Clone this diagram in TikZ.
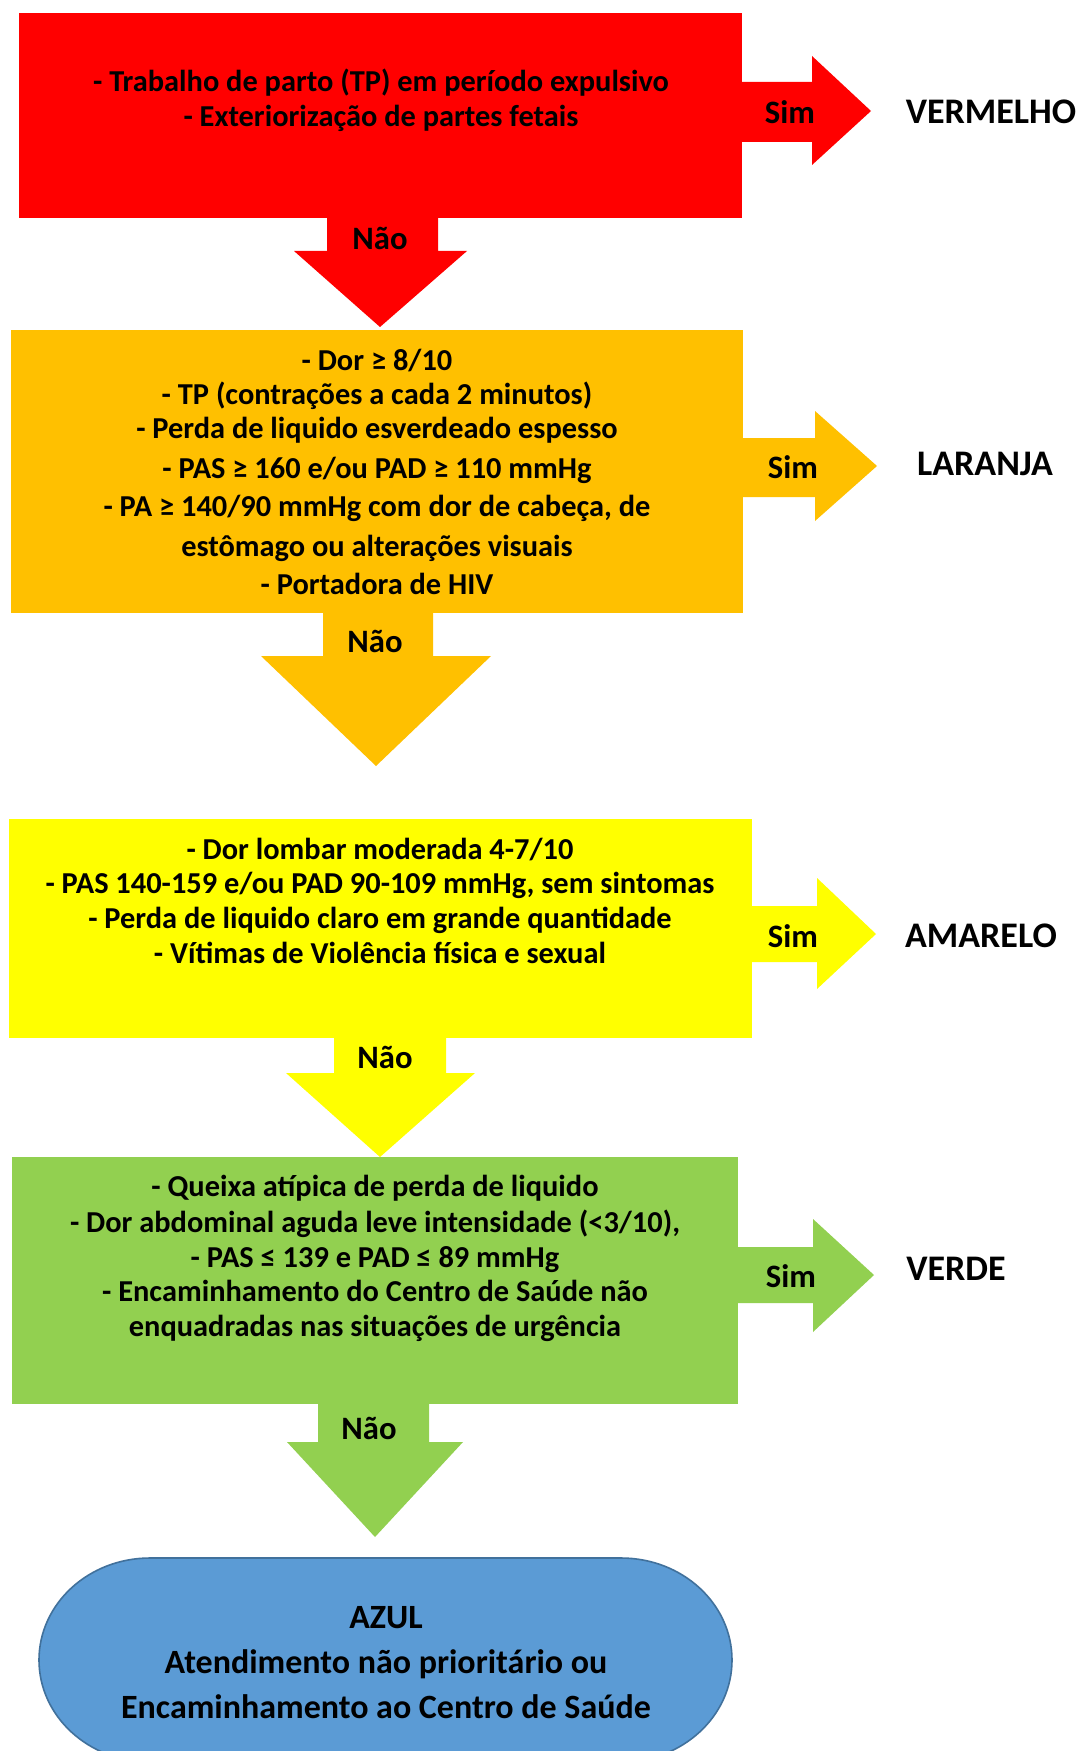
\documentclass[tikz,border=0pt]{standalone}
\usepackage{fontspec}
\setmainfont{Carlito}
\definecolor{cRed}{HTML}{FF0000}
\definecolor{cOrange}{HTML}{FFC000}
\definecolor{cYellow}{HTML}{FFFF00}
\definecolor{cGreen}{HTML}{92D050}
\definecolor{cBlue}{HTML}{5B9BD5}
\definecolor{cBlueEdge}{HTML}{41719C}
\begin{document}
\begin{tikzpicture}[x=0.75pt,y=-0.75pt,
  txt/.style={inner sep=0pt, text height=0.7em, text depth=0.2em, anchor=center, yshift=-6pt},
  line/.style={txt, font=\bfseries\fontsize{22.8}{26}\selectfont},
  answer/.style={txt, font=\bfseries\fontsize{24.5}{28}\selectfont},
  level/.style={txt, font=\bfseries\fontsize{27}{30}\selectfont},
  endline/.style={txt, font=\bfseries\fontsize{25.5}{30}\selectfont}]
\path[clip] (0,0) rectangle (1079,1751);
\fill[white] (0,0) rectangle (1079,1751);

% ---------- VERMELHO ----------
\fill[cRed] (19,13) rectangle (742,218);
\fill[cRed] (740,82) -- (812,82) -- (812,56) -- (871,111) -- (812,165) -- (812,142) -- (740,142) -- cycle;
\fill[cRed] (327,216) -- (327,251) -- (294,251) -- (380,327) -- (467,251) -- (438,251) -- (438,216) -- cycle;
\node[line] (r1) at (381,80) {- Trabalho de parto (TP) em período expulsivo};
\node[line] (r2) at (381,115) {- Exteriorização de partes fetais};
\node[answer] (rs) at (790,112) {Sim};
\node[level] (rl) at (991,112) {VERMELHO};
\node[answer] (rn) at (380,238) {Não};

% ---------- LARANJA ----------
\fill[cOrange] (11,330) rectangle (743,613);
\fill[cOrange] (741,438) -- (815,438) -- (815,411) -- (877,466) -- (815,521) -- (815,497) -- (741,497) -- cycle;
\fill[cOrange] (323,611) -- (323,656) -- (261,656) -- (376,766) -- (491,656) -- (433,656) -- (433,611) -- cycle;
\node[line] (o1) at (377,359) {- Dor ≥ 8/10};
\node[line] (o2) at (377,393) {- TP (contrações a cada 2 minutos)};
\node[line] (o3) at (377,427) {- Perda de liquido esverdeado espesso};
\node[line] (o4) at (377,467) {- PAS ≥ 160 e/ou PAD ≥ 110 mmHg};
\node[line] (o5) at (377,505) {- PA ≥ 140/90 mmHg com dor de cabeça, de};
\node[line] (o6) at (377,545) {estômago ou alterações visuais};
\node[line] (o7) at (377,583) {- Portadora de HIV};
\node[answer] (os) at (793,467) {Sim};
\node[level] (ol) at (985,464) {LARANJA};
\node[answer] (on) at (375,641) {Não};

% ---------- AMARELO ----------
\fill[cYellow] (9,819) rectangle (752,1038);
\fill[cYellow] (750,906) -- (817,906) -- (817,878) -- (876,934) -- (817,989) -- (817,962) -- (750,962) -- cycle;
\fill[cYellow] (334,1036) -- (334,1073) -- (286,1073) -- (380,1157) -- (475,1073) -- (446,1073) -- (446,1036) -- cycle;
\node[line] (y1) at (380,848) {- Dor lombar moderada 4-7/10};
\node[line] (y2) at (380,882) {- PAS 140-159 e/ou PAD 90-109 mmHg, sem sintomas};
\node[line] (y3) at (380,917) {- Perda de liquido claro em grande quantidade};
\node[line] (y4) at (380,952) {- Vítimas de Violência física e sexual};
\node[answer] (ys) at (793,936) {Sim};
\node[level] (yl) at (981,936) {AMARELO};
\node[answer] (yn) at (385,1057) {Não};

% ---------- VERDE ----------
\fill[cGreen] (12,1157) rectangle (738,1404);
\fill[cGreen] (736,1247) -- (813,1247) -- (813,1219) -- (874,1275) -- (813,1332) -- (813,1303) -- (736,1303) -- cycle;
\fill[cGreen] (318,1402) -- (318,1442) -- (287,1442) -- (375,1537) -- (463,1442) -- (429,1442) -- (429,1402) -- cycle;
\node[line] (g1) at (375,1185) {- Queixa atípica de perda de liquido};
\node[line] (g2) at (375,1221) {- Dor abdominal aguda leve intensidade (<3/10),};
\node[line] (g3) at (375,1256) {- PAS ≤ 139 e PAD ≤ 89 mmHg};
\node[line] (g4) at (375,1290) {- Encaminhamento do Centro de Saúde não};
\node[line] (g5) at (375,1325) {enquadradas nas situações de urgência};
\node[answer] (gs) at (791,1276) {Sim};
\node[level] (gl) at (956,1269) {VERDE};
\node[answer] (gn) at (369,1428) {Não};

% ---------- AZUL (terminator) ----------
\filldraw[fill=cBlue, draw=cBlueEdge, line width=1.2pt]
  (150,1558) -- (621,1558)
  arc[start angle=90, end angle=-90, x radius=83.25pt, y radius=76.5pt]
  -- (150,1762)
  arc[start angle=270, end angle=90, x radius=83.25pt, y radius=76.5pt]
  -- cycle;
\node[endline] (b1) at (386,1617) {AZUL};
\node[endline] (b2) at (386,1662) {Atendimento não prioritário ou};
\node[endline] (b3) at (386,1707) {Encaminhamento ao Centro de Saúde};
\end{tikzpicture}
\end{document}
